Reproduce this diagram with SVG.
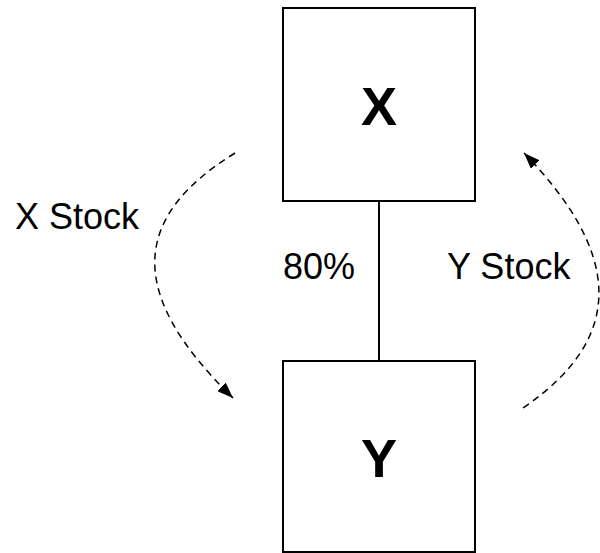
<svg xmlns="http://www.w3.org/2000/svg" width="600" height="553" viewBox="0 0 600 553">
<style>
.box{fill:#fff;stroke:#000;stroke-width:2}
.lbl{font-family:"Liberation Sans",Arial,sans-serif;font-size:36px;fill:#000}
.big{font-family:"Liberation Sans",Arial,sans-serif;font-size:54px;font-weight:bold;fill:#000;text-anchor:middle}
.dash{fill:none;stroke:#000;stroke-width:1.5;stroke-dasharray:7 5}
</style>
<defs>
<marker id="ah" markerUnits="userSpaceOnUse" markerWidth="16" markerHeight="12" refX="16" refY="6" orient="auto" viewBox="0 0 16 12">
<path d="M0,0 L16,6 L0,12 z" fill="#000"/>
</marker>
</defs>
<rect width="600" height="553" fill="#fff"/>
<g id="connectors">
<line x1="379" y1="201" x2="379" y2="361" stroke="#000" stroke-width="2"/>
<path class="dash" d="M235,153 C135,215 122,290 233,398" marker-end="url(#ah)"/>
<path class="dash" d="M523,408 C630,335 618,250 524,153" marker-end="url(#ah)"/>
</g>
<g id="node-x">
<rect class="box" x="283" y="8" width="192" height="193"/>
<text class="big" x="379" y="125">X</text>
</g>
<g id="node-y">
<rect class="box" x="283" y="361" width="192" height="191"/>
<text class="big" x="379" y="477">Y</text>
</g>
<g id="labels">
<text class="lbl" x="15" y="229">X Stock</text>
<text class="lbl" x="283" y="279">80%</text>
<text class="lbl" x="447" y="279">Y Stock</text>
</g>
</svg>
